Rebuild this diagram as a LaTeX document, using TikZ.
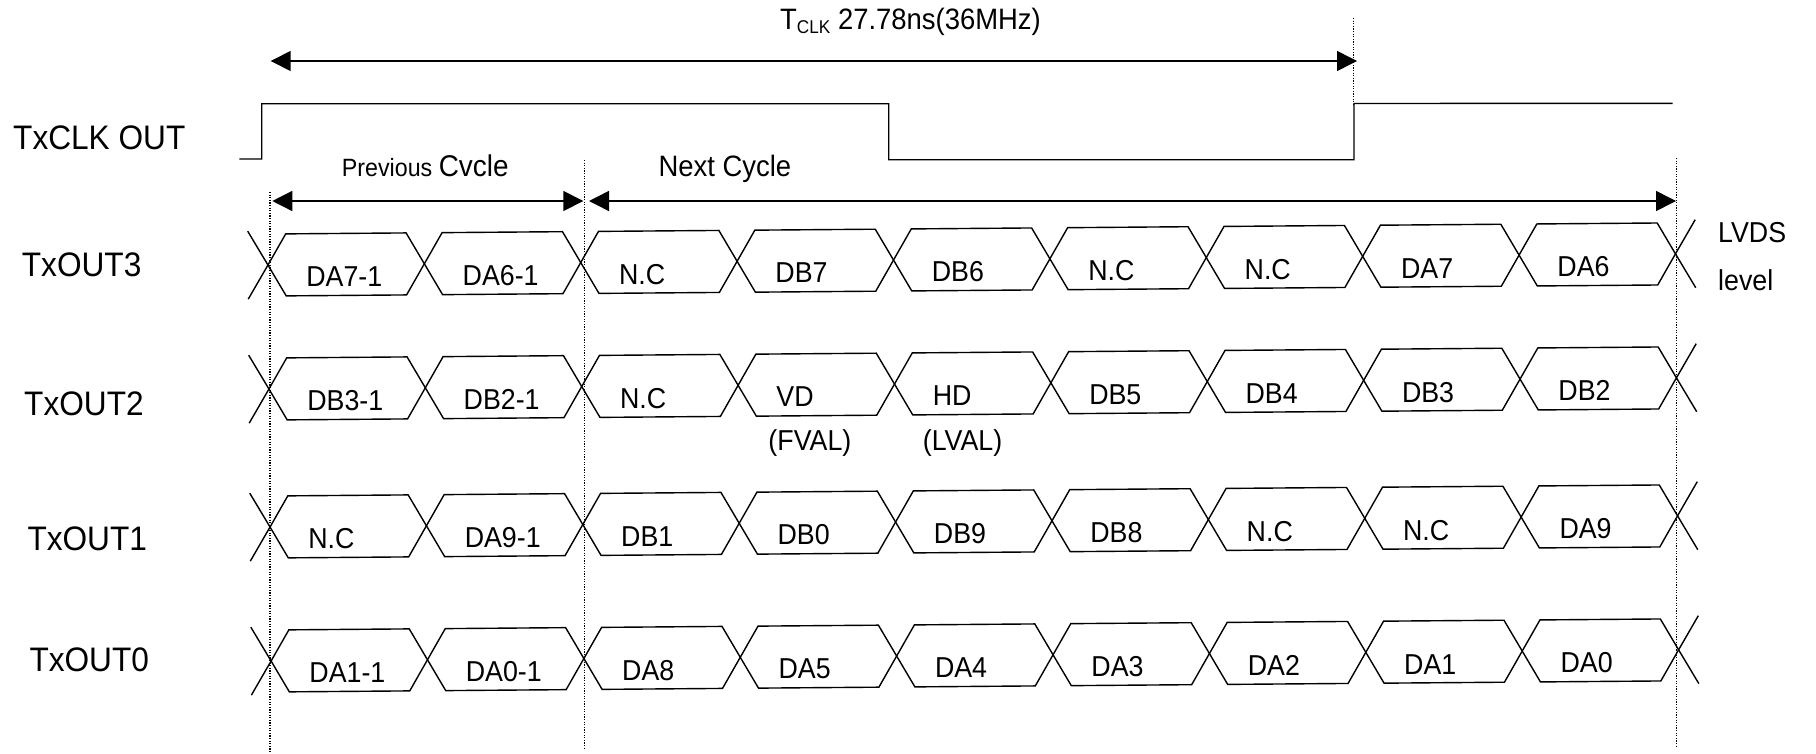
\documentclass[tikz,border=0pt]{standalone}
\usepackage{fontspec}
\setmainfont{Liberation Sans}[FakeStretch=0.93]
\usetikzlibrary{arrows.meta}

\newcommand\datafont{\fontsize{28.8}{30}\selectfont}
\newcommand\sigfont{\fontsize{34}{36}\selectfont}

\begin{document}
\begin{tikzpicture}[x=1pt,y=-1pt]
\tikzstyle{sig}=[anchor=base west,inner sep=0pt,font=\sigfont]
\tikzstyle{data}=[anchor=base west,inner sep=0pt,font=\datafont]
\tikzstyle{wave}=[line width=1.4pt]
\tikzstyle{guide}=[line width=1.1pt,dash pattern=on 1.2pt off 1.4pt]
\tikzstyle{span}=[line width=1.5pt,{Triangle[length=20pt,width=20pt]}-{Triangle[length=20pt,width=20pt]}]
\useasboundingbox (0,0) rectangle (1816,753);

% signal names
\node[sig] (clk) at (13,149.3) {TxCLK OUT};
\node[sig] (out3) at (21.7,276) {TxOUT3};
\node[sig] (out2) at (24,415.3) {TxOUT2};
\node[sig] (out1) at (27.3,550) {TxOUT1};
\node[sig] (out0) at (29.3,671) {TxOUT0};
\node[data] (lvds) at (1718,242.3) {LVDS};
\node[data] (level) at (1718,290.7) {level};

% clock
\draw[wave] (239.3,159) -- (261.7,159) -- (261.7,103.7) -- (888.7,103.7)
  -- (888.7,159.7) -- (1354,159.7) -- (1354,103.5) -- (1672.7,103.3);

% guide lines
\coordinate (g0t) at (270,192);    \coordinate (g0b) at (270,753);
\coordinate (g1t) at (584.3,160);  \coordinate (g1b) at (584.3,749);
\coordinate (g2t) at (1676.7,158); \coordinate (g2b) at (1676.7,746);
\coordinate (g3t) at (1353.3,18);  \coordinate (g3b) at (1353.3,104);
\draw[guide] (g0t) -- (g0b);
\draw[guide] (g1t) -- (g1b);
\draw[guide] (g2t) -- (g2b);
\draw[guide] (g3t) -- (g3b);

% period and cycles
\coordinate (p0) at (270.7,61);  \coordinate (p1) at (1357,61);
\coordinate (c0) at (272.3,201); \coordinate (c1) at (583.3,201);
\coordinate (n0) at (589,201);   \coordinate (n1) at (1676,201);
\draw[span] (p0) -- (p1);
\draw[span] (c0) -- (c1);
\draw[span] (n0) -- (n1);
\node[data,font=\fontsize{29.5}{31}\selectfont] (tclk) at (780,29.3)
  {T\raisebox{-4pt}{\fontsize{18.5}{19}\selectfont CLK} 27.78ns(36MHz)};
\node[data] (prev) at (341.7,176.5)
  {{\fontsize{25}{27}\selectfont Previous }{\fontsize{30}{31}\selectfont Cvcle}};
\node[data,font=\fontsize{29.5}{31}\selectfont] (next) at (658.3,176.7) {Next Cycle};

% data lanes
\begin{scope}[rotate around={0.455:(270,460)}]
\foreach \yc/\labs [count=\r] in {265/{DA7-1,DA6-1,N.C,DB7,DB6,N.C,N.C,DA7,DA6},
    389/{DB3-1,DB2-1,N.C,VD,HD,DB5,DB4,DB3,DB2},
    527/{N.C,DA9-1,DB1,DB0,DB9,DB8,N.C,N.C,DA9},
    661/{DA1-1,DA0-1,DA8,DA5,DA4,DA3,DA2,DA1,DA0}}{
  \draw[wave] (249.5,\yc-34) -- (269.5,\yc) -- (249.5,\yc+34);
  \draw[wave] (1697.1,\yc-34) -- (1677.1,\yc) -- (1697.1,\yc+34);
  \foreach \lab [count=\k from 0] in \labs {
    \pgfmathsetmacro\xa{269.5+156.4*\k}
    \pgfmathsetmacro\xb{\xa+156.4}
    \draw[wave] (\xa,\yc) -- (\xa+18,\yc-31) -- (\xb-18,\yc-31) -- (\xb,\yc)
      -- (\xb-18,\yc+31) -- (\xa+18,\yc+31) -- cycle;
    \node[data] (cell-\r-\k) at (\xa+38,\yc+22) {\lab};
  }
}
\end{scope}
\node[data] (fval) at ([xshift=-8pt,yshift=-44pt]cell-2-3.base west) {(FVAL)};
\node[data] (lval) at ([xshift=-10pt,yshift=-45pt]cell-2-4.base west) {(LVAL)};
\end{tikzpicture}
\end{document}
